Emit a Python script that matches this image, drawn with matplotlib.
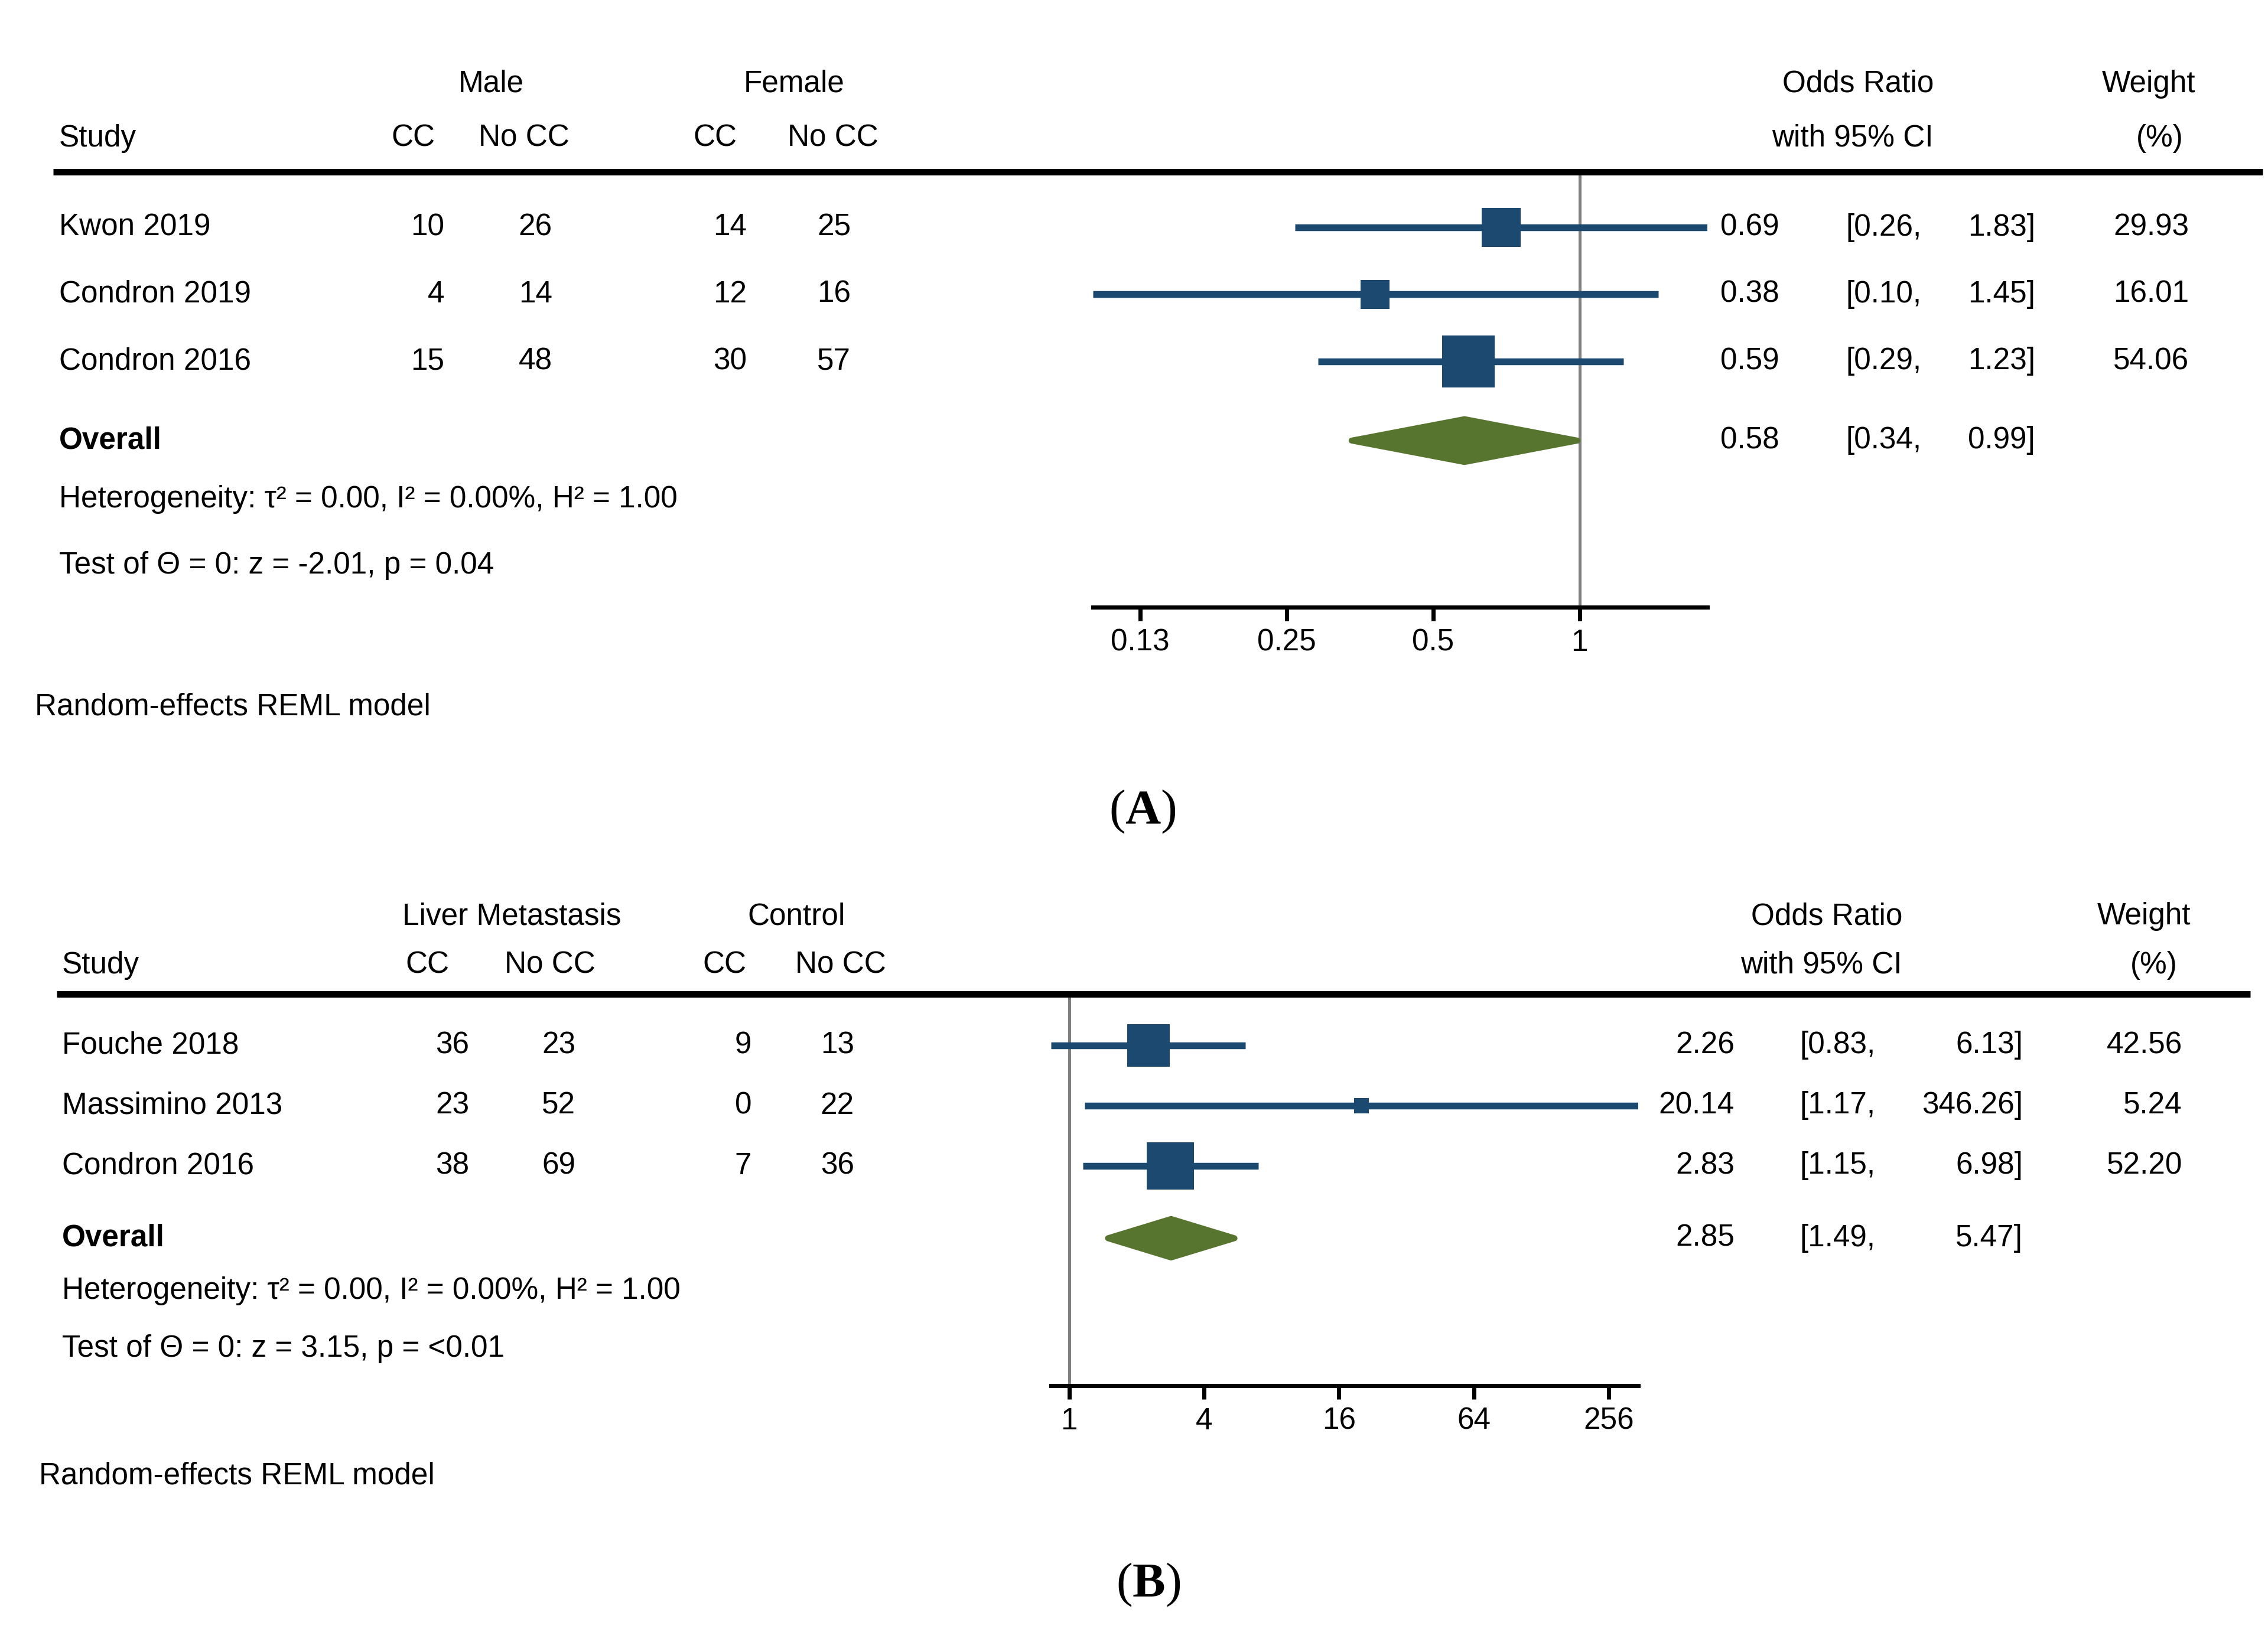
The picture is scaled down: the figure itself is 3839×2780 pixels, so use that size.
import matplotlib
matplotlib.use("Agg")
import matplotlib.pyplot as plt
import numpy as np
from matplotlib.lines import Line2D
from matplotlib.transforms import blended_transform_factory

plt.rcParams["font.family"] = ["Liberation Sans", "DejaVu Sans"]
plt.rcParams["mathtext.fontset"] = "custom"
plt.rcParams["mathtext.rm"] = "Liberation Serif"
plt.rcParams["mathtext.bf"] = "Liberation Serif:bold"

# ---------------- Dados do painel A ----------------
estudos_a = ["Kwon 2019", "Condron 2019", "Condron 2016"]
grupos_a = ["Male", "Female"]
male_cc = [10, 4, 15]
male_nocc = [26, 14, 48]
female_cc = [14, 12, 30]
female_nocc = [25, 16, 57]
or_a = [0.69, 0.38, 0.59]
lower_a = [0.26, 0.10, 0.29]
upper_a = [1.83, 1.45, 1.23]
peso_a = [29.93, 16.01, 54.06]
overall_a = [0.58, 0.34, 0.99]
het_a = "Heterogeneity: τ² = 0.00, I² = 0.00%, H² = 1.00"
teste_a = "Test of Θ = 0: z = -2.01, p = 0.04"
ticks_a = [0.125, 0.25, 0.5, 1]
ticklabels_a = ["0.13", "0.25", "0.5", "1"]

# ---------------- Dados do painel B ----------------
estudos_b = ["Fouche 2018", "Massimino 2013", "Condron 2016"]
grupos_b = ["Liver Metastasis", "Control"]
liver_cc = [36, 23, 38]
liver_nocc = [23, 52, 69]
control_cc = [9, 0, 7]
control_nocc = [13, 22, 36]
or_b = [2.26, 20.14, 2.83]
lower_b = [0.83, 1.17, 1.15]
upper_b = [6.13, 346.26, 6.98]
peso_b = [42.56, 5.24, 52.20]
overall_b = [2.85, 1.49, 5.47]
het_b = "Heterogeneity: τ² = 0.00, I² = 0.00%, H² = 1.00"
teste_b = "Test of Θ = 0: z = 3.15, p = <0.01"
ticks_b = [1, 4, 16, 64, 256]
ticklabels_b = ["1", "4", "16", "64", "256"]

modelo = "Random-effects REML model"

# ---------------- Estilo ----------------
W, H, DPI = 3839, 2780, 300
AZUL = "#1b4970"
VERDE = "#57752f"
CINZA = "#808080"
FS = 12.3  # tamanho da fonte das tabelas


def pt(px):
    # pixels -> pontos
    return px * 72.0 / DPI


fig = plt.figure(figsize=(W / DPI, H / DPI), dpi=DPI)
fig.patch.set_facecolor("white")


def painel(estudos, grupos, colunas, ors, lows, ups, pesos, overall, het, teste,
           ticks, ticklabels, lay, letra):
    row0, step = lay["row0"], lay["step"]
    y_top = (lay["thick_y"] - row0) / step
    y_bot = (lay["axis_y"] - row0) / step

    # eixo do forest plot (pixels -> fração da figura)
    x0, x1 = lay["ax_x"]
    ax = fig.add_axes([x0 / W, 1 - lay["axis_y"] / H, (x1 - x0) / W,
                       (lay["axis_y"] - lay["thick_y"]) / H])
    ax.set_xscale("log", base=2)
    ax.set_xlim(min(lows), max(ups))
    ax.set_ylim(y_bot, y_top)
    ax.patch.set_alpha(0)
    for s in ["top", "left", "right"]:
        ax.spines[s].set_visible(False)
    ax.spines["bottom"].set_linewidth(pt(7))
    ax.set_yticks([])
    ax.set_xticks(ticks)
    ax.set_xticklabels(ticklabels)
    ax.xaxis.set_minor_locator(matplotlib.ticker.NullLocator())
    ax.tick_params(axis="x", length=pt(23), width=pt(7), pad=3, labelsize=FS)

    # linha de referência em 1
    ax.axvline(1, color=CINZA, lw=pt(5), zorder=1)

    linhas = np.arange(len(estudos))
    # intervalos de confiança
    ax.hlines(linhas, lows, ups, color=AZUL, lw=pt(11.5), zorder=2,
              capstyle="butt")
    # quadrados proporcionais ao peso
    lados = lay["k_sq"] * np.sqrt(np.array(pesos))
    ax.scatter(ors, linhas, s=pt(lados) ** 2, marker="s", color=AZUL,
               linewidths=0, zorder=3)

    # diamante do efeito global
    yo = lay["overall_row"]
    h = 0.32
    est, lo, hi = overall
    ax.fill([lo, est, hi, est], [yo, yo - h, yo, yo + h], facecolor=VERDE,
            edgecolor=VERDE, lw=pt(10), joinstyle="round", zorder=3)

    tr = blended_transform_factory(fig.transFigure, ax.transData)
    dy = 0.0

    def txt(xpx, row, s, ha="left", **kw):
        ax.text(xpx / W, row + dy, s, transform=tr, ha=ha, va="center",
                fontsize=FS, clip_on=False, **kw)

    # cabeçalhos
    r1, r2 = -2.14, -1.33
    txt(lay["grp_c"][0], r1, grupos[0], ha="center")
    txt(lay["grp_c"][1], r1, grupos[1], ha="center")
    txt(lay["study_x"], r2, "Study")
    for xc, s in zip(lay["hdr_c"], ["CC", "No CC", "CC", "No CC"]):
        txt(xc, r2, s, ha="center")
    txt(lay["orh_r"], r1, "Odds Ratio", ha="right")
    txt(lay["orh_r"], r2, "with 95% CI", ha="right")
    txt(lay["wh_c"][0], r1, "Weight", ha="center")
    txt(lay["wh_c"][1], r2, "(%)", ha="center")

    # linhas dos estudos
    for i, nome in enumerate(estudos):
        txt(lay["study_x"], i, nome)
        for xr, col in zip(lay["num_r"], colunas):
            txt(xr, i, str(col[i]), ha="right")
        txt(lay["or_r"], i, f"{ors[i]:.2f}", ha="right")
        txt(lay["ci_l"], i, f"[{lows[i]:.2f},")
        txt(lay["ci_r"], i, f"{ups[i]:.2f}]", ha="right")
        txt(lay["w_r"], i, f"{pesos[i]:.2f}", ha="right")

    txt(lay["study_x"], yo, "Overall", fontweight="bold")
    txt(lay["or_r"], yo, f"{est:.2f}", ha="right")
    txt(lay["ci_l"], yo, f"[{lo:.2f},")
    txt(lay["ci_r"], yo, f"{hi:.2f}]", ha="right")

    txt(lay["study_x"], lay["het_row"], het)
    txt(lay["study_x"], lay["test_row"], teste)
    txt(lay["foot_x"], lay["foot_row"], modelo)

    # linha grossa do cabeçalho
    tx0, tx1 = lay["thick_x"]
    fig.add_artist(Line2D([tx0 / W, tx1 / W], [1 - lay["thick_y"] / H] * 2,
                          transform=fig.transFigure, color="black",
                          lw=pt(11), solid_capstyle="butt"))

    # rótulo do painel
    lx, ly = lay["label"]
    fig.text(lx / W, 1 - ly / H, "($\\mathbf{" + letra + "}$)",
             family="Liberation Serif", fontsize=20, ha="center", va="center")
    return ax


layout_a = dict(row0=385, step=113.5, thick_y=291, axis_y=1028,
                ax_x=(1850, 2890), thick_x=(90, 3830), k_sq=12.1,
                overall_row=3.18, het_row=4.06, test_row=5.04, foot_row=7.15,
                study_x=100, foot_x=59,
                grp_c=(831, 1344), hdr_c=(699, 887, 1210, 1410),
                num_r=(752, 935, 1264, 1440),
                orh_r=3273, wh_c=(3637, 3656),
                or_r=3012, ci_l=3124, ci_r=3445, w_r=3705,
                label=(1934, 1374))

layout_b = dict(row0=1770, step=102, thick_y=1683, axis_y=2346,
                ax_x=(1779, 2773), thick_x=(96, 3809), k_sq=11.0,
                overall_row=3.2, het_row=4.07, test_row=5.03, foot_row=7.15,
                study_x=105, foot_x=66,
                grp_c=(866, 1348), hdr_c=(723, 931, 1226, 1423),
                num_r=(794, 974, 1272, 1446),
                orh_r=3220, wh_c=(3629, 3646),
                or_r=2936, ci_l=3046, ci_r=3424, w_r=3694,
                label=(1944, 2683))

painel(estudos_a, grupos_a, [male_cc, male_nocc, female_cc, female_nocc],
       or_a, lower_a, upper_a, peso_a, overall_a, het_a, teste_a,
       ticks_a, ticklabels_a, layout_a, "A")
painel(estudos_b, grupos_b, [liver_cc, liver_nocc, control_cc, control_nocc],
       or_b, lower_b, upper_b, peso_b, overall_b, het_b, teste_b,
       ticks_b, ticklabels_b, layout_b, "B")

fig.savefig("out.png", dpi=DPI)
plt.close(fig)
